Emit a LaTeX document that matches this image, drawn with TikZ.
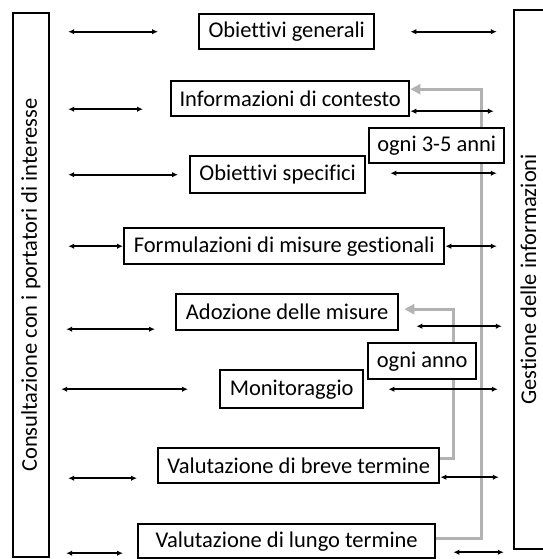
\documentclass[tikz,border=0pt]{standalone}
\usepackage{fontspec}
\setmainfont{Carlito}[Ligatures=NoCommon]
\usetikzlibrary{arrows.meta,calc,backgrounds}

\begin{document}
\begin{tikzpicture}[
  x=1pt, y=-1pt,
  font=\fontsize{22.5}{26}\selectfont,
  stage/.style={draw, line width=2.4pt, fill=white, inner sep=0pt, anchor=north west},
  side/.style={draw, line width=2.4pt, inner sep=0pt, rotate=90},
  link/.style={{Latex[length=6pt,width=5.5pt]}-{Latex[length=6pt,width=5.5pt]}, line width=1.7pt},
  feedback/.style={-{Triangle[length=10pt,width=10pt]}, line width=3.2pt, black!30}
]
\useasboundingbox (0,0) rectangle (542,559);

% ---- side bars ----
\node[side, minimum width=544pt, minimum height=36pt] (cons) at (31,285) {Consultazione con i portatori di interesse};
\node[side, minimum width=539pt, minimum height=34pt] (ges) at (531,279.5) {};
\node[rotate=90, inner sep=0pt] (gestxt) at ($(ges.center)+(-2.5,0)$) {Gestione delle informazioni};

% ---- stages ----
\node[stage, minimum width=175pt, minimum height=35pt] (gen)   at (198,13)  {Obiettivi generali};
\node[stage, minimum width=238pt, minimum height=35pt] (info)  at (170,80)  {Informazioni di contesto};
\node[stage, minimum width=175pt, minimum height=37pt] (spec)  at (189,155) {Obiettivi specifici};
\node[stage, minimum width=320pt, minimum height=36pt] (form)  at (123,227) {Formulazioni di misure gestionali};
\node[stage, minimum width=222pt, minimum height=36pt] (adoz)  at (175,293) {Adozione delle misure};
\node[stage, minimum width=143pt, minimum height=38pt] (monit) at (219,369) {Monitoraggio};
\node[stage, minimum width=281pt, minimum height=35pt] (breve) at (157,447) {Valutazione di breve termine};
\node[stage, minimum width=297pt, minimum height=34pt] (lungo) at (137,523) {Valutazione di lungo termine};

% ---- frequencies ----
\node[stage, minimum width=135pt, minimum height=35pt] (freqa) at (368,127) {ogni 3-5 anni};
\node[stage, minimum width=108pt, minimum height=36pt] (freqb) at (367,342) {ogni anno};

% ---- feedback loops ----
\begin{scope}[on background layer]
\draw[feedback] ($(lungo.east)+(0,-3)$) -| ($(info.east)+(71,-9.5)$) -- ($(info.east)+(0,-9.5)$);
\draw[feedback] ($(breve.east)+(-2,-7.5)$) -| ($(adoz.east)+(54,-3)$) -- ($(adoz.east)+(5,-3)$);
\end{scope}

% ---- left arrows ----
\draw[link] ($(cons.south |- gen.west)+(18,0)$) -- ($(gen.west)+(-40,0)$);
\draw[link] ($(cons.south |- info.west)+(18,10.5)$) -- ($(info.west)+(-27,10.5)$);
\draw[link] ($(cons.south |- spec.west)+(18,0)$) -- ($(spec.west)+(-11,0)$);
\draw[link] ($(cons.south |- form.west)+(18,0)$) -- (form.west);
\draw[link] ($(cons.south |- adoz.west)+(16,17)$) -- ($(adoz.west)+(-20,17)$);
\draw[link] ($(cons.south |- monit.west)+(11,0)$) -- ($(monit.west)+(-31,0)$);
\draw[link] ($(cons.south |- breve.west)+(18,12.5)$) -- ($(breve.west)+(-20,12.5)$);
\draw[link] ($(cons.south |- lungo.west)+(16,12)$) -- ($(lungo.west)+(-14,12)$);

% ---- right arrows ----
\draw[link] ($(gen.east)+(35,0)$) -- ($(ges.north |- gen.east)+(-16,0)$);
\draw[link] ($(info.east)+(0,12.5)$) -- ($(ges.north |- info.east)+(-19,12.5)$);
\draw[link] ($(spec.east)+(24,-1.5)$) -- ($(ges.north |- spec.east)+(-16,-1.5)$);
\draw[link] (form.east) -- ($(ges.north |- form.east)+(-16,0)$);
\draw[link] ($(adoz.east)+(17,14)$) -- ($(ges.north |- adoz.east)+(-11,14)$);
\draw[link] ($(monit.east)+(24,0)$) -- ($(ges.north |- monit.east)+(-15,0)$);
\draw[link] ($(breve.east)+(0,11.5)$) -- ($(ges.north |- breve.east)+(-14,11.5)$);
\draw[link] ($(lungo.east)+(17,11)$) -- ($(ges.north |- lungo.east)+(-9,11)$);
\end{tikzpicture}
\end{document}
